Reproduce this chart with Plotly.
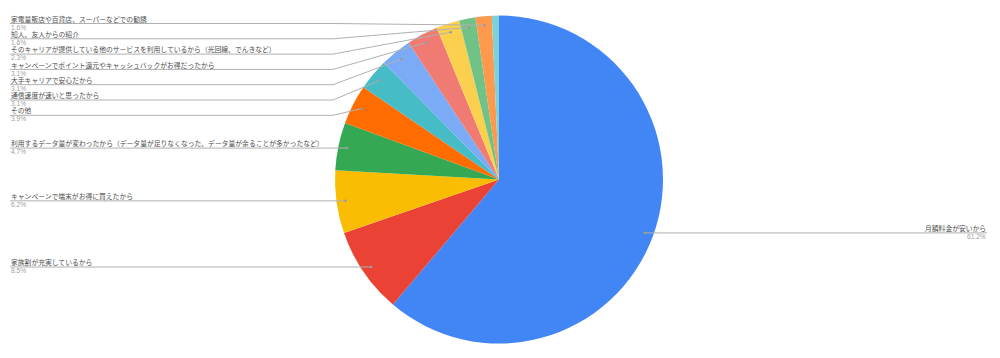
import math
import plotly.graph_objects as go

# ---- data ----
categories = [
    "月額料金が安いから",
    "家族割が充実しているから",
    "キャンペーンで端末がお得に買えたから",
    "利用するデータ量が変わったから（データ量が足りなくなった、データ量が余ることが多かったなど）",
    "その他",
    "通信速度が速いと思ったから",
    "大手キャリアで安心だから",
    "キャンペーンでポイント還元やキャッシュバックがお得だったから",
    "そのキャリアが提供している他のサービスを利用しているから（光回線、でんきなど）",
    "知人、友人からの紹介",
    "家電量販店や百貨店、スーパーなどでの勧誘",
    "（未回答）",
]
values = [61.2, 8.5, 6.2, 4.7, 3.9, 3.1, 3.1, 3.1, 2.3, 1.6, 1.6, 0.7]
colors = ["#4285f4", "#ea4335", "#fbbc04", "#34a853", "#ff6d01", "#46bdc6",
          "#7baaf7", "#f07b72", "#fcd04f", "#71c287", "#ff994d", "#7ed1d7"]

# ---- layout constants (pixels) ----
W, H = 1000, 358
CX, CY, R = 499, 179.5, 164
ANCHOR_F = 0.945
LEFT_X, RIGHT_X, BEND_X = 10, 987, 333
GAP, TOP_LIMIT = 15.3, 23.5
FONT = "Noto Sans CJK JP"
PCT_FONT = "Liberation Sans, Arial, sans-serif"
LINE_COLOR = "#b0b0b0"


def px(x):
    return x / W


def py(y):
    return 1 - y / H


fig = go.Figure()
fig.add_trace(go.Pie(
    labels=categories, values=values, sort=False, direction="clockwise",
    rotation=0, textinfo="none", hoverinfo="label+percent",
    marker=dict(colors=colors, line=dict(width=0)),
    domain=dict(x=[px(CX - R), px(CX + R)], y=[py(CY + R), py(CY - R)]),
    showlegend=False,
))

total = sum(values)
anchors = []
cum = 0
for v in values:
    th = 2 * math.pi * (cum + v / 2) / total
    ra = R * ANCHOR_F
    anchors.append((CX + ra * math.sin(th), CY - ra * math.cos(th)))
    cum += v

labeled = [i for i, v in enumerate(values) if v >= 1]
left = sorted([i for i in labeled if anchors[i][0] < CX], key=lambda i: anchors[i][1])
right = [i for i in labeled if anchors[i][0] >= CX]

label_y = {}
prev = None
for i in left:
    ay = anchors[i][1]
    y = min(ay, TOP_LIMIT) if prev is None else max(ay, prev + GAP)
    label_y[i] = y
    prev = y
for i in right:
    label_y[i] = anchors[i][1]

shapes = []
annotations = []
for i in labeled:
    ax, ay = anchors[i]
    ly = label_y[i]
    pct = f"{values[i] / total * 100:.1f}%"
    if i in right:
        path = f"M {px(ax)} {py(ay)} L {px(RIGHT_X)} {py(ly)}"
        tx, xa = RIGHT_X, "right"
    else:
        path = f"M {px(LEFT_X)} {py(ly)} L {px(BEND_X)} {py(ly)} L {px(ax)} {py(ay)}"
        tx, xa = LEFT_X, "left"
    shapes.append(dict(type="path", xref="paper", yref="paper", path=path,
                       line=dict(color=LINE_COLOR, width=1)))
    shapes.append(dict(type="circle", xref="paper", yref="paper",
                       x0=px(ax - 1.3), x1=px(ax + 1.3), y0=py(ay + 1.3), y1=py(ay - 1.3),
                       fillcolor="#9a9a9a", line=dict(width=0)))
    annotations.append(dict(x=px(tx), y=py(ly - 4.8), xref="paper", yref="paper",
                            text=categories[i], showarrow=False, xanchor=xa, yanchor="middle",
                            font=dict(family=FONT, size=6.8, color="#4d4d4d"), borderpad=0))
    annotations.append(dict(x=px(tx), y=py(ly + 3.7), xref="paper", yref="paper",
                            text=pct, showarrow=False, xanchor=xa, yanchor="middle",
                            font=dict(family=PCT_FONT, size=6.6, color="#a0a0a0"), borderpad=0))

fig.update_layout(
    width=W, height=H, margin=dict(l=0, r=0, t=0, b=0),
    paper_bgcolor="white", plot_bgcolor="white",
    shapes=shapes, annotations=annotations,
)
fig.write_html("out.html")
